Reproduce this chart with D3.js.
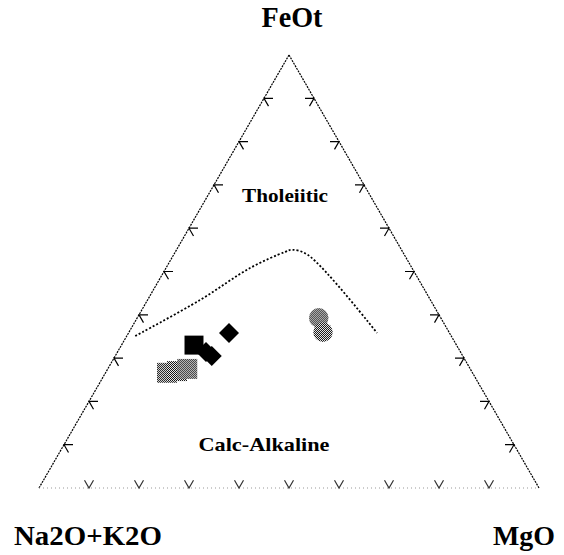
<!DOCTYPE html>
<html><head><meta charset="utf-8">
<script src="https://cdn.jsdelivr.net/npm/d3@7"></script>
<style>html,body{margin:0;padding:0;background:#fff;}svg{display:block;}</style>
</head><body>
<svg id="chart" width="564" height="555"></svg>
<script>
// Boundary line (Irvine & Baragar) in ternary % (FeOt, Na2O+K2O, MgO)
const lineFeO = [35.1, 43.4, 50.8, 54.5, 55.0, 53.8, 35.8];
const lineAlk = [63.2, 46.1, 32.4, 23.6, 21.9, 19.3, 14.5];
const lineMgO = [1.7, 10.5, 16.8, 21.9, 23.1, 26.9, 49.7];

// Samples
const sampleType = ["sq-gray","sq-gray","sq-gray","sq-black","diamond","diamond","diamond","circle","circle"];
const sampleFeO = [26.6, 27.0, 27.5, 33.0, 31.4, 30.5, 35.8, 39.3, 36.0];
const sampleAlk = [61.1, 58.9, 56.6, 52.5, 50.9, 50.2, 44.1, 24.4, 25.2];
const sampleMgO = [12.3, 14.1, 15.9, 14.5, 17.7, 19.3, 20.1, 36.3, 38.8];

const tickValues = [10,20,30,40,50,60,70,80,90];

const svg = d3.select("#chart");
const side = 500, x0 = 39, y0 = 488;
const s = d3.scaleLinear().domain([0,100]).range([0, side]);
function proj(f, a, m) {
  const tot = f + a + m;
  f = f / tot * 100; m = m / tot * 100;
  return [x0 + s(m) + s(f) / 2, y0 - s(f) * Math.sqrt(3) / 2];
}
const A = proj(100,0,0), L = proj(0,100,0), R = proj(0,0,100);

// pattern for dithered gray
const defs = svg.append("defs");
const pat = defs.append("pattern").attr("id","dither").attr("width",2).attr("height",2)
  .attr("patternUnits","userSpaceOnUse");
pat.append("rect").attr("width",2).attr("height",2).attr("fill","#fff");
pat.append("rect").attr("x",0).attr("y",0).attr("width",1).attr("height",1).attr("fill","#000");
pat.append("rect").attr("x",1).attr("y",1).attr("width",1).attr("height",1).attr("fill","#000");

// edges
svg.append("line").attr("x1",L[0]).attr("y1",L[1]).attr("x2",A[0]).attr("y2",A[1])
  .attr("stroke","#000").attr("stroke-width",1.2).attr("stroke-dasharray","2,1");
svg.append("line").attr("x1",A[0]).attr("y1",A[1]).attr("x2",R[0]).attr("y2",R[1])
  .attr("stroke","#000").attr("stroke-width",1.2).attr("stroke-dasharray","2,1");
svg.append("line").attr("x1",L[0]).attr("y1",L[1]).attr("x2",R[0]).attr("y2",R[1])
  .attr("stroke","#999").attr("stroke-width",1).attr("stroke-dasharray","1,3");

// ticks
const tl = 9, tv = tl / side * 100;
const ticks = svg.append("g").attr("stroke","#000").attr("stroke-width",1.2).attr("fill","none");
tickValues.forEach(v => {
  // left edge: FeO = v, MgO = 0
  let p = proj(v, 100 - v, 0);
  let q1 = proj(v, 100 - v - tv, tv);
  let q2 = proj(v - tv, 100 - v, tv);
  ticks.append("path").attr("d", `M${q1}L${p}L${q2}`);
  // right edge: FeO = v, Alk = 0
  p = proj(v, 0, 100 - v);
  q1 = proj(v, tv, 100 - v - tv);
  q2 = proj(v - tv, tv, 100 - v);
  ticks.append("path").attr("d", `M${q1}L${p}L${q2}`);
  // bottom: FeO = 0
  p = proj(0, 100 - v, v);
  q1 = proj(tv, 100 - v - tv, v);
  q2 = proj(tv, 100 - v, v - tv);
  ticks.append("path").attr("d", `M${q1}L${p}L${q2}`).attr("stroke","#333");
});

// boundary line
const linePts = lineFeO.map((f, i) => proj(f, lineAlk[i], lineMgO[i]));
svg.append("path").attr("d", d3.line().curve(d3.curveCatmullRom.alpha(0.5))(linePts))
  .attr("fill","none").attr("stroke","#000").attr("stroke-width",1.8).attr("stroke-dasharray","2,2");

// samples
const sym = {
  "sq-gray": {type: d3.symbolSquare, size: 400, fill: "url(#dither)", rot: 0},
  "sq-black": {type: d3.symbolSquare, size: 360, fill: "#000", rot: 0},
  "diamond": {type: d3.symbolSquare, size: 200, fill: "#000", rot: 45},
  "circle": {type: d3.symbolCircle, size: 300, fill: "url(#dither)", rot: 0}
};
sampleType.forEach((t, i) => {
  const p = proj(sampleFeO[i], sampleAlk[i], sampleMgO[i]);
  const o = sym[t];
  svg.append("path").attr("d", d3.symbol().type(o.type).size(o.size)())
    .attr("transform", `translate(${p[0]},${p[1]}) rotate(${o.rot})`)
    .attr("fill", o.fill);
});

// labels
const font = "'Liberation Serif','Times New Roman',serif";
function label(txt, x, y, size, len, anchor) {
  svg.append("text").attr("x", x).attr("y", y).attr("text-anchor", anchor || "middle")
    .attr("font-family", font).attr("font-weight", "bold").attr("font-size", size)
    .attr("textLength", len).attr("lengthAdjust", "spacingAndGlyphs").text(txt);
}
label("FeOt", 292, 27, 30, 61);
label("Na2O+K2O", 14, 545, 28, 148, "start");
label("MgO", 555, 545, 28, 62, "end");
label("Tholeiitic", 285, 202, 18, 86);
label("Calc-Alkaline", 264, 451, 19, 131);
</script>
</body></html>
